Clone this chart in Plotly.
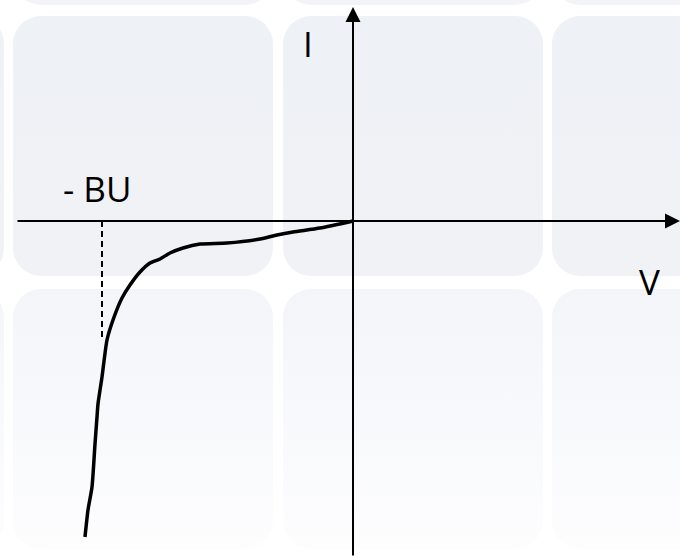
import base64

import plotly.graph_objects as go

# Reverse-bias diode I-V sketch, arbitrary units, origin where the axes cross
v_curve = [0, -33, -60, -76, -93, -126, -153, -170, -183, -193, -203, -213,
           -223, -231, -240, -246, -251, -255, -256, -258, -261, -265, -268]
i_curve = [0, -7, -11, -14, -18, -22, -23, -27, -32, -38, -42, -51,
           -64, -77, -99, -119, -156, -183, -196, -223, -266, -289, -316]

# breakdown voltage marker (dashed drop line)
v_breakdown = [-251, -251]
i_breakdown = [0, -119]

axis_labels = ["I", "V", "- BU"]

W, H = 680, 557
X0, Y0 = 353, 221  # pixel position of the origin
X_RANGE = [-X0, W - X0]
Y_RANGE = [Y0 - H, Y0]


def tiles_svg():
    # soft rounded tiles of the slide background, one gradient per row
    cols = [-256, 13, 283, 552]
    rows = [(-255, "#eef1f6", "#f2f4f8"),
            (16, "#eef1f5", "#f0f2f6"),
            (289, "#f3f5f9", "#fdfdfe")]
    defs, rects = [], []
    for k, (top, c0, c1) in enumerate(rows):
        defs.append(
            f'<linearGradient id="g{k}" x1="0" y1="0" x2="0" y2="1">'
            f'<stop offset="0" stop-color="{c0}"/><stop offset="1" stop-color="{c1}"/>'
            f'</linearGradient>')
        for left in cols:
            rects.append(f'<rect x="{left}" y="{top}" width="260" height="260" '
                         f'rx="28" ry="28" fill="url(#g{k})"/>')
    svg = (f'<svg xmlns="http://www.w3.org/2000/svg" width="{W}" height="{H}" '
           f'viewBox="0 0 {W} {H}"><defs>{"".join(defs)}</defs>'
           f'<rect width="{W}" height="{H}" fill="white"/>{"".join(rects)}</svg>')
    return "data:image/svg+xml;base64," + base64.b64encode(svg.encode()).decode()


fig = go.Figure()

fig.add_trace(go.Scatter(
    x=v_breakdown, y=i_breakdown, mode="lines",
    line=dict(color="black", width=2, dash="6px,4px"),
    hoverinfo="skip",
))
fig.add_trace(go.Scatter(
    x=v_curve, y=i_curve, mode="lines",
    line=dict(color="black", width=3.5, shape="spline", smoothing=0.6),
    hoverinfo="skip",
))

# axes with arrow heads
arrow = dict(xref="x", yref="y", axref="x", ayref="y", text="", showarrow=True,
             arrowhead=2, arrowsize=1.5, arrowwidth=2, arrowcolor="black",
             standoff=0, startstandoff=0)
fig.add_annotation(x=X_RANGE[1], y=0, ax=16 - X0, ay=0, **arrow)
fig.add_annotation(x=0, y=Y0 - 7, ax=0, ay=Y_RANGE[0], **arrow)

label_font = dict(family="Open Sans", size=35, color="black")
fig.add_annotation(x=-45, y=178, text=axis_labels[0], showarrow=False,
                   font=label_font, xanchor="center", yanchor="middle")
fig.add_annotation(x=296, y=-60, text=axis_labels[1], showarrow=False,
                   font=label_font, xanchor="center", yanchor="middle")
fig.add_annotation(x=-256, y=33, text=axis_labels[2], showarrow=False,
                   font=label_font, xanchor="center", yanchor="middle")

fig.update_layout(
    width=W, height=H,
    margin=dict(l=0, r=0, t=0, b=0),
    paper_bgcolor="white", plot_bgcolor="rgba(0,0,0,0)",
    showlegend=False,
    xaxis=dict(range=X_RANGE, visible=False, fixedrange=True),
    yaxis=dict(range=Y_RANGE, visible=False, fixedrange=True),
    images=[dict(source=tiles_svg(), xref="paper", yref="paper", x=0, y=1,
                 sizex=1, sizey=1, sizing="stretch", layer="below")],
)

fig.write_html("out.html", config={"displayModeBar": False},
               post_script="document.body.style.margin='0';")
